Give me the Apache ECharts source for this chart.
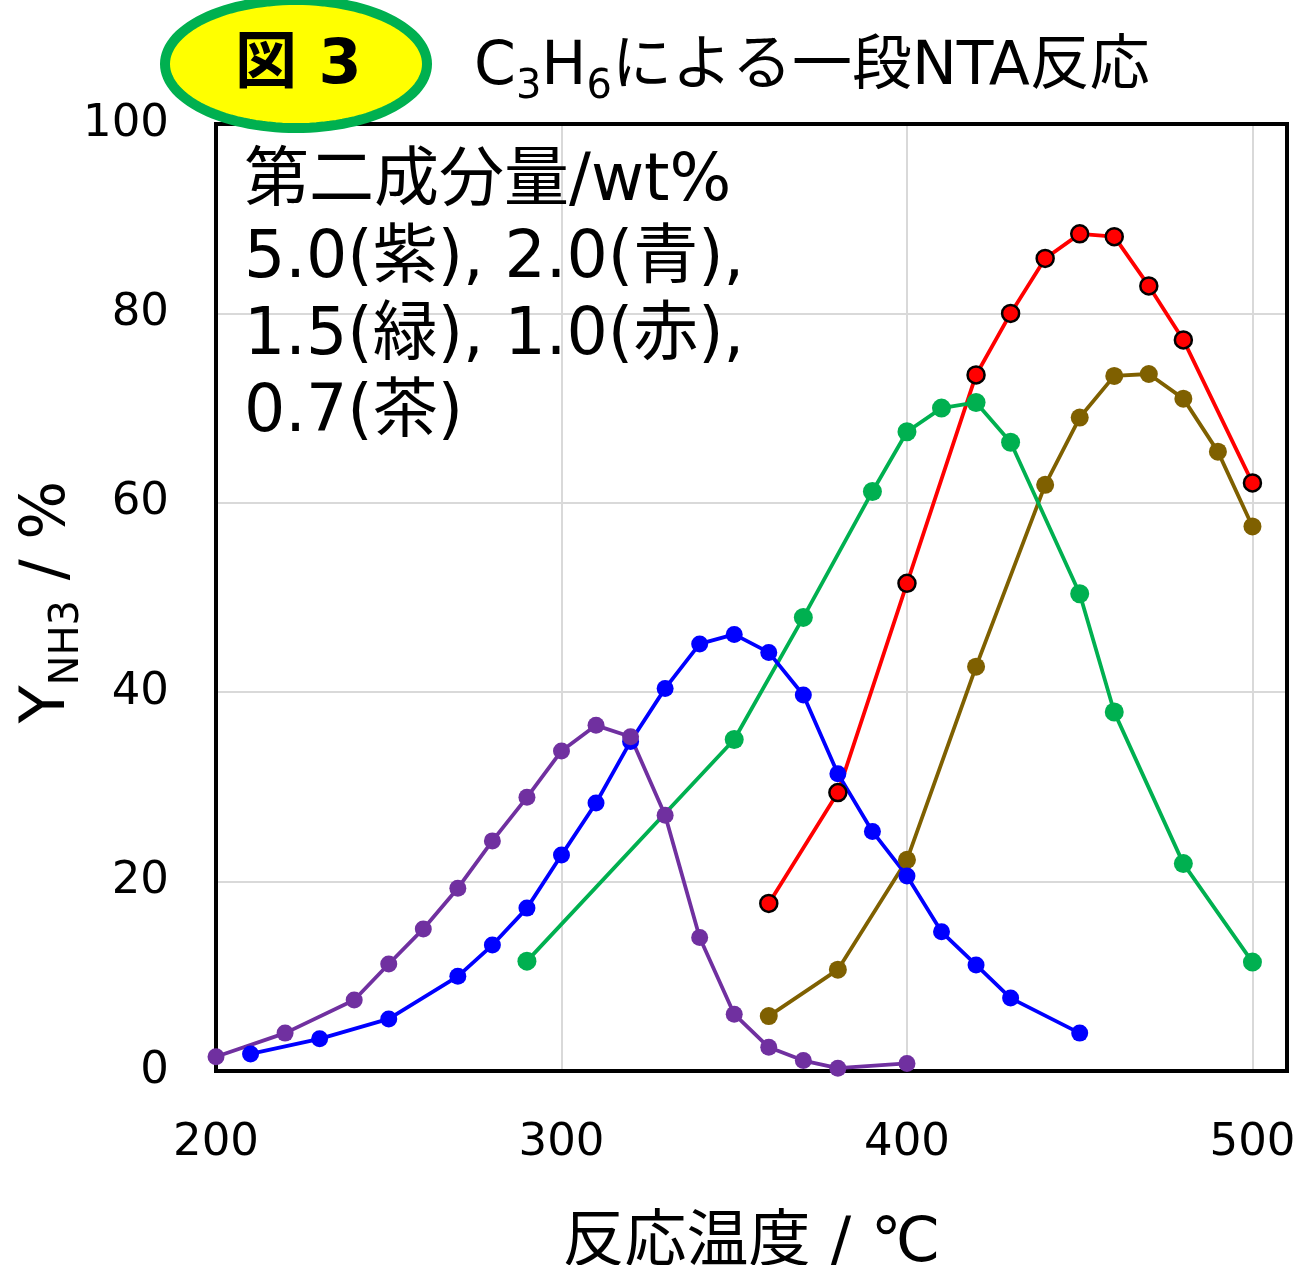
<!DOCTYPE html>
<html>
<head>
<meta charset="utf-8">
<script src="https://cdn.jsdelivr.net/npm/echarts@6/dist/echarts.min.js"></script>
<style>
  html, body { margin: 0; padding: 0; background: #fff; }
  #chart { width: 1298px; height: 1265px; }
</style>
</head>
<body>
<div id="chart"></div>
<script>
// Reaction temperature (°C) and NH3 yield (%) for each second-component loading
const purpleTemp = [200, 220, 240, 250, 260, 270, 280, 290, 300, 310, 320, 330, 340, 350, 360, 370, 380, 400];
const purpleYield = [1.5, 4.0, 7.5, 11.3, 15.0, 19.3, 24.3, 28.9, 33.8, 36.5, 35.3, 27.0, 14.1, 6.0, 2.5, 1.1, 0.3, 0.8];

const blueTemp = [210, 230, 250, 270, 280, 290, 300, 310, 320, 330, 340, 350, 360, 370, 380, 390, 400, 410, 420, 430, 450];
const blueYield = [1.8, 3.4, 5.5, 10.0, 13.3, 17.2, 22.8, 28.3, 34.8, 40.4, 45.1, 46.1, 44.2, 39.7, 31.4, 25.3, 20.6, 14.7, 11.2, 7.7, 4.0];

const greenTemp = [290, 350, 370, 390, 400, 410, 420, 430, 450, 460, 480, 500];
const greenYield = [11.6, 35.0, 47.9, 61.2, 67.5, 70.0, 70.6, 66.4, 50.4, 37.9, 21.9, 11.5];

const redTemp = [360, 380, 400, 420, 430, 440, 450, 460, 470, 480, 500];
const redYield = [17.7, 29.4, 51.5, 73.5, 80.0, 85.8, 88.4, 88.1, 82.9, 77.2, 62.1];

const brownTemp = [360, 380, 400, 420, 440, 450, 460, 470, 480, 490, 500];
const brownYield = [5.8, 10.7, 22.3, 42.7, 61.9, 69.0, 73.4, 73.6, 71.0, 65.4, 57.5];

const FONT = '"DejaVu Sans", "Noto Sans CJK JP", sans-serif';

function pairs(xs, ys) { return xs.map((x, i) => [x, ys[i]]); }

// Outline of the badge ellipse behind the figure number
function ellipsePoints(cx, cy, rx, ry, n) {
  const pts = [];
  for (let i = 0; i < n; i++) {
    const a = (i / n) * Math.PI * 2;
    pts.push([cx + rx * Math.cos(a), cy + ry * Math.sin(a)]);
  }
  return pts;
}

function lineSeries(name, data, color, extra) {
  return Object.assign({
    name: name,
    type: 'line',
    data: data,
    symbol: 'circle',
    symbolSize: 17,
    showAllSymbol: true,
    lineStyle: { color: color, width: 3.8 },
    itemStyle: { color: color },
    emphasis: { disabled: true },
    animation: false
  }, extra || {});
}

// Rich-text styles for subscripted labels
const subRich = {
  m: { fontSize: 62, lineHeight: 80, fontFamily: FONT, fill: '#000' },
  s: { fontSize: 40, lineHeight: 40, verticalAlign: 'bottom', fontFamily: FONT, fill: '#000' }
};

const chart = echarts.init(document.getElementById('chart'), null, { renderer: 'canvas' });

chart.setOption({
  backgroundColor: '#fff',
  textStyle: { fontFamily: FONT },
  grid: {
    left: 216, right: 11, top: 124, bottom: 194,
    containLabel: false,
    outerBoundsMode: 'none',
    show: true, borderColor: '#000', borderWidth: 4, z: 3
  },
  xAxis: {
    type: 'value',
    min: 200, max: 510, interval: 100,
    axisLine: { show: false },
    axisTick: { show: false },
    axisLabel: {
      show: true, showMaxLabel: false, margin: 50,
      fontSize: 45, color: '#000', fontFamily: FONT
    },
    splitLine: { show: true, lineStyle: { color: '#d9d9d9', width: 2 } },
    name: '反応温度 / ℃',
    nameLocation: 'middle',
    nameGap: 143,
    nameTextStyle: { fontSize: 62, color: '#000', fontFamily: FONT }
  },
  yAxis: {
    type: 'value',
    min: 0, max: 100, interval: 20,
    axisLine: { show: false },
    axisTick: { show: false },
    axisLabel: { margin: 47, fontSize: 45, color: '#000', fontFamily: FONT },
    splitLine: { show: true, lineStyle: { color: '#d9d9d9', width: 2 } }
  },
  series: [
    lineSeries('1.0', pairs(redTemp, redYield), '#ff0000', {
      symbolSize: 17,
      itemStyle: { color: '#ff0000', borderColor: '#000', borderWidth: 2.5 }
    }),
    lineSeries('0.7', pairs(brownTemp, brownYield), '#7f6000', { symbolSize: 18 }),
    lineSeries('1.5', pairs(greenTemp, greenYield), '#00b050', { symbolSize: 19 }),
    {
      // inner white ring of the double-circle markers
      type: 'scatter',
      data: pairs(greenTemp, greenYield),
      symbol: 'circle',
      symbolSize: 13,
      itemStyle: { color: 'rgba(0,0,0,0)', borderColor: '#ffffff', borderWidth: 1.6 },
      silent: true,
      animation: false,
      z: 2
    },
    lineSeries('2.0', pairs(blueTemp, blueYield), '#0000ff'),
    lineSeries('5.0', pairs(purpleTemp, purpleYield), '#7030a0')
  ],
  graphic: [
    {
      type: 'polygon',
      z: 100,
      shape: { points: ellipsePoints(296, 64, 131, 64, 120) },
      style: { fill: '#ffff00', stroke: '#00b050', lineWidth: 10 }
    },
    {
      type: 'text',
      z: 101,
      left: 235, top: 36,
      style: { text: '図 3', font: 'bold 62px ' + FONT, fill: '#000' }
    },
    {
      type: 'text',
      z: 101,
      left: 474, top: 38,
      style: {
        text: '{m|C}{s|3}{m|H}{s|6}{m|による一段NTA反応}',
        rich: {
          m: { fontSize: 60, lineHeight: 80, fontFamily: FONT, fill: '#000' },
          s: { fontSize: 40, lineHeight: 40, verticalAlign: 'bottom', fontFamily: FONT, fill: '#000' }
        }
      }
    },
    {
      // y-axis title, read bottom to top
      type: 'text',
      z: 101,
      x: 48, y: 602,
      rotation: Math.PI / 2,
      style: {
        text: '{m|Y}{s|NH3}{m| / %}',
        align: 'center',
        verticalAlign: 'middle',
        rich: subRich
      }
    },
    {
      type: 'text',
      z: 50,
      left: 244, top: 145,
      style: {
        text: '第二成分量/wt%\n5.0(紫), 2.0(青),\n1.5(緑), 1.0(赤),\n0.7(茶)',
        fontSize: 65, lineHeight: 77, fontFamily: FONT, fill: '#000'
      }
    }
  ]
});
</script>
</body>
</html>
